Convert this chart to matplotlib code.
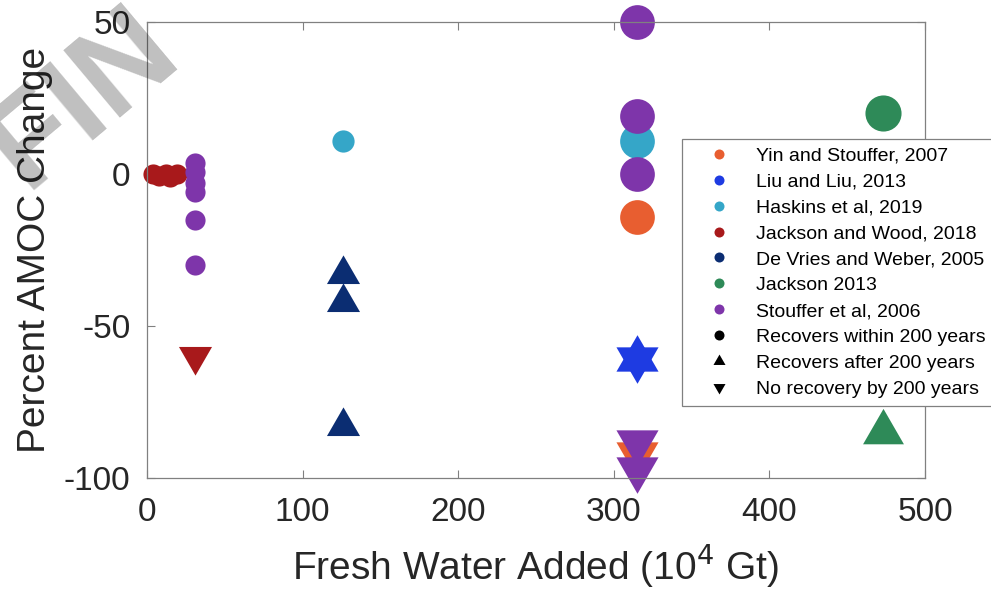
import numpy as np
import matplotlib.pyplot as plt
from matplotlib.lines import Line2D

plt.rcParams['font.family'] = ['Liberation Sans', 'DejaVu Sans']
plt.rcParams['axes.unicode_minus'] = False

# fresh water added (10^4 Gt), percent AMOC change, recovery type
studies = ['Yin and Stouffer, 2007', 'Liu and Liu, 2013', 'Haskins et al, 2019',
           'Jackson and Wood, 2018', 'De Vries and Weber, 2005', 'Jackson 2013',
           'Stouffer et al, 2006']
colors = ['#E85E30', '#1E3BE2', '#35A6C8', '#A8191B', '#0B2D72', '#2E8A58', '#7E35AA']

yin_x = [315, 315]
yin_y = [-14, -92]
yin_kind = ['within', 'none']

liu_x = [315, 315]
liu_y = [-61, -61]
liu_kind = ['after', 'none']

haskins_x = [126, 315]
haskins_y = [11, 11]
haskins_kind = ['within', 'within']

jw_x = [4, 8, 12, 15, 19, 31]
jw_y = [0, -0.5, 0, -1, 0, -60]
jw_kind = ['within', 'within', 'within', 'within', 'within', 'none']

dvw_x = [126, 126, 126]
dvw_y = [-33, -42, -83]
dvw_kind = ['after', 'after', 'after']

jackson_x = [473, 473]
jackson_y = [20, -85]
jackson_kind = ['within', 'after']

stouffer_x = [31, 31, 31, 31, 31, 31, 315, 315, 315, 315, 315]
stouffer_y = [3.5, 0.5, -3, -6, -15, -30, 50, 19, 0, -88, -97]
stouffer_kind = ['within'] * 9 + ['none', 'none']

xs = [yin_x, liu_x, haskins_x, jw_x, dvw_x, jackson_x, stouffer_x]
ys = [yin_y, liu_y, haskins_y, jw_y, dvw_y, jackson_y, stouffer_y]
kinds = [yin_kind, liu_kind, haskins_kind, jw_kind, dvw_kind, jackson_kind, stouffer_kind]

# marker sizes (points)
sizes = [[25, 35], [35, 35], [16, 25], [14.5] * 5 + [27.5], [27.5] * 3, [26, 34],
         [14.5] * 6 + [25, 25, 25, 35, 35]]

# equilateral triangles centred on their centroid (like MATLAB markers)
tri_up = [(0, 1), (-0.866, -0.5), (0.866, -0.5)]
tri_down = [(0, -1), (-0.866, 0.5), (0.866, 0.5)]
markers = {'within': 'o', 'after': tri_up, 'none': tri_down}

fig = plt.figure(figsize=(9.91, 5.94), dpi=100)
ax = fig.add_axes([147 / 991, 1 - 478 / 594, 778 / 991, 456 / 594])

for c, xx, yy, kk, ss in zip(colors, xs, ys, kinds, sizes):
    for x, y, k, s in zip(xx, yy, kk, ss):
        ax.plot(x, y, linestyle='none', marker=markers[k], markersize=s,
                color=c, markeredgewidth=0, clip_on=False)

ax.set_xlim(0, 500)
ax.set_ylim(-100, 50)
ax.set_xticks([0, 100, 200, 300, 400, 500])
ax.set_yticks([-100, -50, 0, 50])
ax.tick_params(direction='in', length=6, width=0.8, color='#808080', labelsize=24,
               labelcolor='#262626', top=True, right=True, pad=12)
ax.tick_params(axis='x', pad=14)
for sp in ax.spines.values():
    sp.set_color('#808080')
    sp.set_linewidth(0.9)
ax.set_xlabel('Fresh Water Added (10$^4$ Gt)', fontsize=28, color='#262626', labelpad=10)
ax.set_ylabel('Percent AMOC Change', fontsize=28, color='#262626', labelpad=8)

handles = [Line2D([], [], linestyle='none', marker='o', markersize=7.2, color=c,
                  markeredgewidth=0) for c in colors]
handles += [Line2D([], [], linestyle='none', marker='o', markersize=7.2, color='k', markeredgewidth=0),
            Line2D([], [], linestyle='none', marker=tri_up, markersize=10, color='k', markeredgewidth=0),
            Line2D([], [], linestyle='none', marker=tri_down, markersize=10, color='k', markeredgewidth=0)]
labels = studies + ['Recovers within 200 years', 'Recovers after 200 years',
                    'No recovery by 200 years']
leg = fig.legend(handles, labels, loc='upper left', bbox_to_anchor=(682 / 991, 1 - 139 / 594),
                 fontsize=14, frameon=True, fancybox=False, framealpha=1,
                 edgecolor='#808080', handlelength=3.0, handletextpad=0.4,
                 labelspacing=0.43, borderpad=0.4, borderaxespad=0)
leg.get_frame().set_linewidth(0.9)

# faint watermark from the source page
fig.text(25 / 991, 1 - 190 / 594, 'FIN', rotation=40, rotation_mode='anchor',
         ha='left', va='baseline', fontsize=92, fontweight='bold', color='k',
         alpha=0.25, zorder=10)

fig.savefig('out.png', dpi=100)
